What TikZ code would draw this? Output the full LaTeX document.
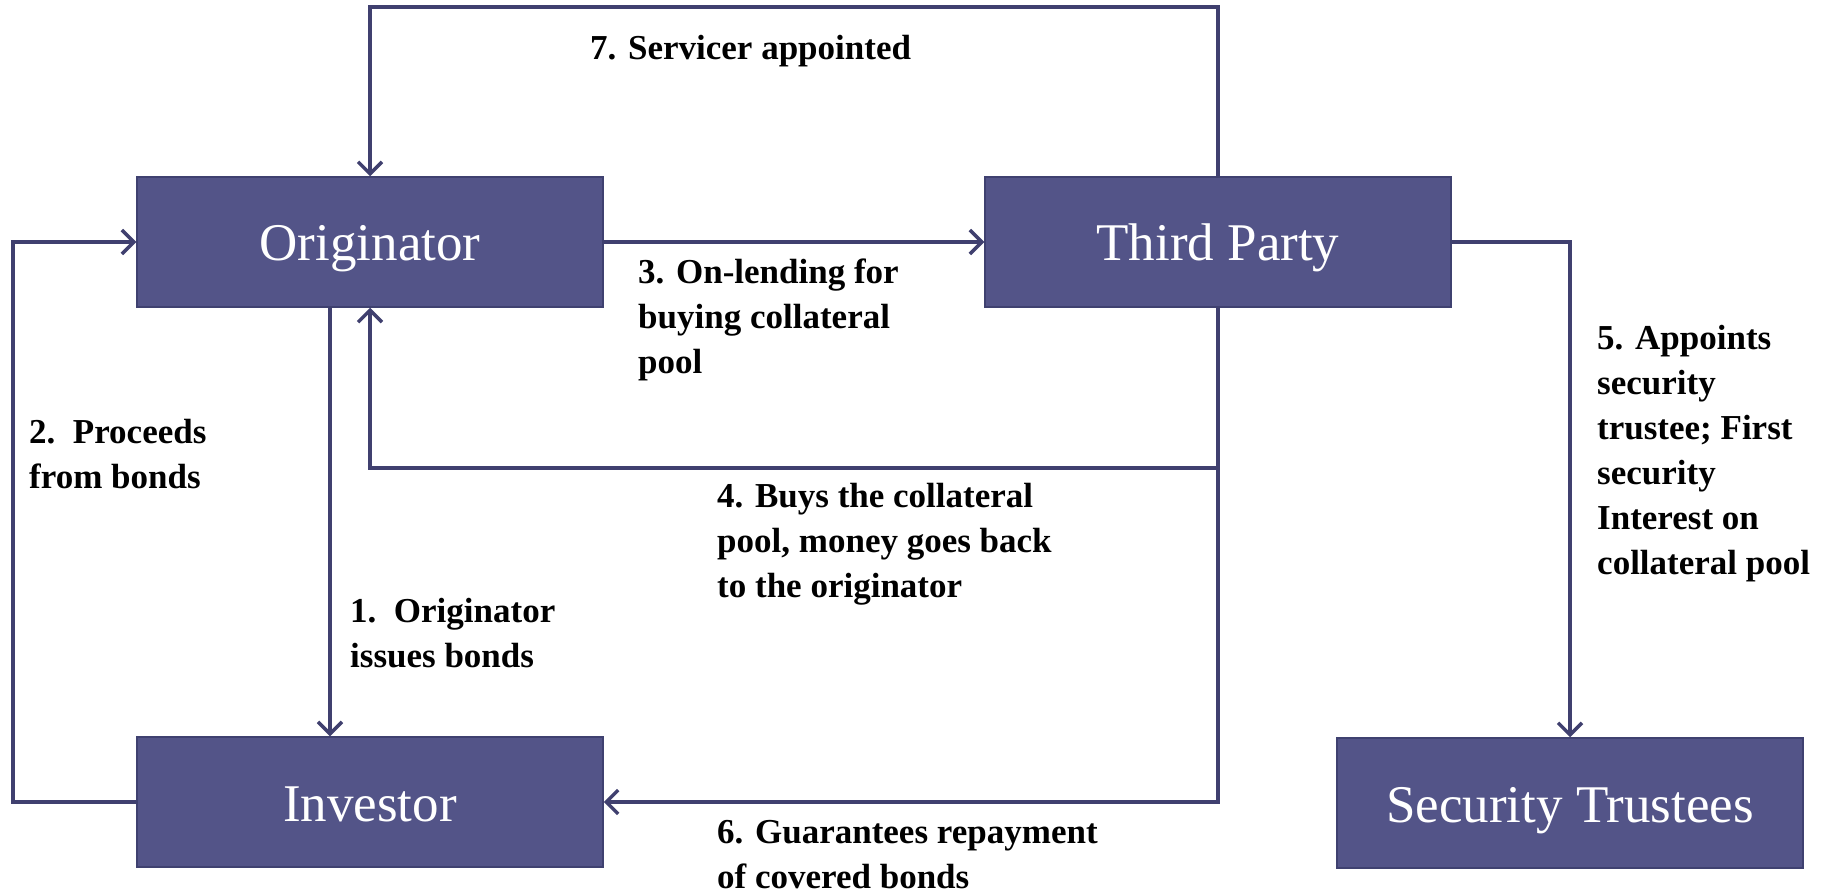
\documentclass[tikz,border=0pt]{standalone}
\usepackage{fontspec}
\setmainfont{Liberation Serif}
\usetikzlibrary{arrows.meta}
\definecolor{boxfill}{HTML}{535488}
\definecolor{boxline}{HTML}{3F4170}
\definecolor{conn}{HTML}{40406F}
\tikzset{
  entity/.style={draw=boxline, line width=1.5pt, fill=boxfill, text=white,
    minimum width=466pt, minimum height=130pt, inner sep=0pt,
    text height=48pt, text depth=10pt,
    font=\fontsize{53}{60}\selectfont},
  conn/.style={draw=conn, line width=4pt, line join=miter,
    -{Straight Barb[length=12pt,width=24pt,line width=3.5pt]}},
  lbl/.style={anchor=base west, inner sep=0pt, align=left,
    font=\fontsize{35}{45}\selectfont\bfseries}
}
\begin{document}
\begin{tikzpicture}[x=1pt,y=-1pt]
\useasboundingbox[fill=white] (0,0) rectangle (1844,893);
\node[entity] (orig) at (370,242) {Originator};
\node[entity] (tp) at (1218,242) {Third Party};
\node[entity] (inv) at (370,802) {Investor};
\node[entity] (st) at (1570,803) {Security Trustees};
\coordinate (top) at (0,7);
\coordinate (mid) at (0,468);
\coordinate (lft) at (13,0);
% 7
\draw[conn] (tp.north) -- (tp.north |- top) -| (orig.north);
% 3
\draw[conn] (orig.east) -- (tp.west);
% 4
\draw[conn] (tp.south) -- (tp.south |- mid) -| (orig.south);
% 6
\draw[conn] (tp.south) |- (inv.east);
% 1
\draw[conn] ([xshift=-40pt]orig.south) -- ([xshift=-40pt]inv.north);
% 2
\draw[conn] (inv.west) -- (inv.west -| lft) |- (orig.west);
% 5
\draw[conn] (tp.east) -| (st.north);
% labels (anchor = baseline of last line)
\node[lbl] (l7) at (590,60) {7. Servicer appointed};
\node[lbl] (l3) at (638,373) {3. On-lending for\\buying collateral\\pool};
\node[lbl] (l2) at (29,488) {2.\enspace Proceeds\\from bonds};
\node[lbl] (l1) at (350,667) {1.\enspace Originator\\issues bonds};
\node[lbl] (l4) at (717,597) {4. Buys the collateral\\pool, money goes back\\to the originator};
\node[lbl] (l6) at (717,888) {6. Guarantees repayment\\of covered bonds};
\node[lbl] (l5) at (1597,574) {5. Appoints\\security\\trustee; First\\security\\Interest on\\collateral pool};
\end{tikzpicture}
\end{document}
